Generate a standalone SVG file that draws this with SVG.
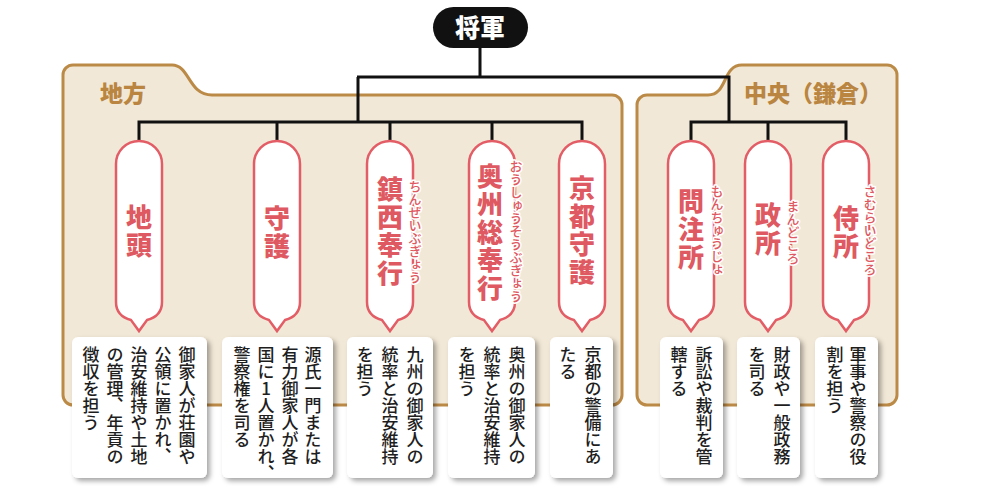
<svg xmlns="http://www.w3.org/2000/svg" xmlns:xlink="http://www.w3.org/1999/xlink" width="1000" height="486" viewBox="0 0 1000 486">
<style>
.panel{fill:#F2E8D7;stroke:#BB8A47;stroke-width:3}
.plabel{font-family:"Noto Sans CJK JP","Noto Sans",sans-serif;font-weight:900;font-size:23px;fill:#B98540}
.pill{fill:#fff;stroke:#E25D66;stroke-width:2.5}
.kanji{font-family:"Noto Sans CJK JP",sans-serif;font-weight:900;font-size:26px;fill:#DE5961;writing-mode:vertical-rl;letter-spacing:2px}
.ruby{font-family:"Noto Sans CJK JP",sans-serif;font-weight:500;font-size:13px;fill:#DE5961;writing-mode:vertical-rl;stroke:#fff;stroke-width:3;stroke-linejoin:round;paint-order:stroke}
.box{fill:#fff;filter:url(#sh)}
.desc{font-family:"Noto Sans CJK JP",sans-serif;font-weight:500;font-size:17px;fill:#1E1E1E;writing-mode:vertical-rl;text-orientation:upright}
.conn{fill:none;stroke:#111;stroke-width:3}
</style>
<defs>
<filter id="sh" x="-20%" y="-20%" width="150%" height="150%">
<feDropShadow dx="3" dy="3" stdDeviation="2.5" flood-color="#000" flood-opacity="0.35"/>
</filter>
<path id="pillshape" d="M-23,164 A23,23 0 0 1 23,164 V302 Q23,316 8,320 L0,331 L-8,320 Q-23,316 -23,302 Z"/>
</defs>

<g id="panel-chiho">
<path class="panel" d="M63,75 A10,10 0 0 1 73,65 H172 C190,65 188,95 212,95 H612 A10,10 0 0 1 622,105 V395 A10,10 0 0 1 612,405 H73 A10,10 0 0 1 63,395 Z"/>
<text class="plabel" x="100" y="102">地方</text>
</g>
<g id="panel-chuo">
<path class="panel" d="M637,105 A10,10 0 0 1 647,95 H708 C728,95 722,65 742,65 H887 A10,10 0 0 1 897,75 V395 A10,10 0 0 1 887,405 H647 A10,10 0 0 1 637,395 Z"/>
<text class="plabel" x="744" y="102">中央（鎌倉）</text>
</g>

<g id="connectors">
<path class="conn" d="M480,48 V77 M357,77 H730.5 M358,77 V122 M139,122 H582 M139,120.5 V142 M277,122 V142 M390,122 V142 M492,122 V142 M582,120.5 V142 M729,77 V122 M691,122 H846 M691,120.5 V142 M768,122 V142 M846,120.5 V142"/>
</g>

<g id="shogun">
<rect x="433" y="7" width="95" height="41" rx="20.5" fill="#111"/>
<text x="480" y="37" text-anchor="middle" font-family="Noto Sans CJK JP,sans-serif" font-weight="900" font-size="25" fill="#fff">将軍</text>
</g>

<g id="jito">
<use xlink:href="#pillshape" x="139" class="pill"/>
<text class="kanji" x="139" y="204">地頭</text>
<rect class="box" x="72" y="337" width="135" height="141" rx="6"/>
<text class="desc" x="187" y="346">御家人が荘園や</text>
<text class="desc" x="163" y="346">公領に置かれ、</text>
<text class="desc" x="139" y="346">治安維持や土地</text>
<text class="desc" x="115" y="346">の管理、年貢の</text>
<text class="desc" x="91" y="346">徴収を担う</text>
</g>

<g id="shugo">
<use xlink:href="#pillshape" x="277" class="pill"/>
<text class="kanji" x="277" y="205">守護</text>
<rect class="box" x="222" y="337" width="111" height="141" rx="6"/>
<text class="desc" x="313" y="346">源氏一門または</text>
<text class="desc" x="290" y="346">有力御家人が各</text>
<text class="desc" x="266" y="346">国に1人置かれ、</text>
<text class="desc" x="242" y="346">警察権を司る</text>
</g>

<g id="chinzei-bugyo">
<use xlink:href="#pillshape" x="390" class="pill"/>
<text class="kanji" x="390" y="176">鎮西奉行</text>
<text class="ruby" x="415" y="180">ちんぜいぶぎょう</text>
<rect class="box" x="347" y="337" width="86" height="141" rx="6"/>
<text class="desc" x="415" y="346">九州の御家人の</text>
<text class="desc" x="390" y="346">統率と治安維持</text>
<text class="desc" x="365" y="346">を担う</text>
</g>

<g id="oshu-sobugyo">
<use xlink:href="#pillshape" x="492" class="pill"/>
<text class="kanji" x="490" y="163">奥州総奉行</text>
<text class="ruby" x="516" y="160">おうしゅうそうぶぎょう</text>
<rect class="box" x="448" y="337" width="87" height="141" rx="6"/>
<text class="desc" x="517" y="346">奥州の御家人の</text>
<text class="desc" x="492" y="346">統率と治安維持</text>
<text class="desc" x="467" y="346">を担う</text>
</g>

<g id="kyoto-shugo">
<use xlink:href="#pillshape" x="582" class="pill"/>
<text class="kanji" x="582" y="175">京都守護</text>
<rect class="box" x="550" y="337" width="63" height="141" rx="6"/>
<text class="desc" x="593" y="346">京都の警備にあ</text>
<text class="desc" x="568" y="346">たる</text>
</g>

<g id="monchujo">
<use xlink:href="#pillshape" x="691" class="pill"/>
<text class="kanji" x="691" y="188">問注所</text>
<text class="ruby" x="717" y="185">もんちゅうじょ</text>
<rect class="box" x="660" y="337" width="63" height="141" rx="6"/>
<text class="desc" x="704" y="346">訴訟や裁判を管</text>
<text class="desc" x="679" y="346">轄する</text>
</g>

<g id="mandokoro">
<use xlink:href="#pillshape" x="768" class="pill"/>
<text class="kanji" x="768" y="202">政所</text>
<text class="ruby" x="793" y="200">まんどころ</text>
<rect class="box" x="737" y="337" width="63" height="141" rx="6"/>
<text class="desc" x="782" y="346">財政や一般政務</text>
<text class="desc" x="757" y="346">を司る</text>
</g>

<g id="samuraidokoro">
<use xlink:href="#pillshape" x="846" class="pill"/>
<text class="kanji" x="846" y="205">侍所</text>
<text class="ruby" x="870" y="185">さむらいどころ</text>
<rect class="box" x="815" y="337" width="63" height="141" rx="6"/>
<text class="desc" x="858" y="346">軍事や警察の役</text>
<text class="desc" x="835" y="346">割を担う</text>
</g>
</svg>
